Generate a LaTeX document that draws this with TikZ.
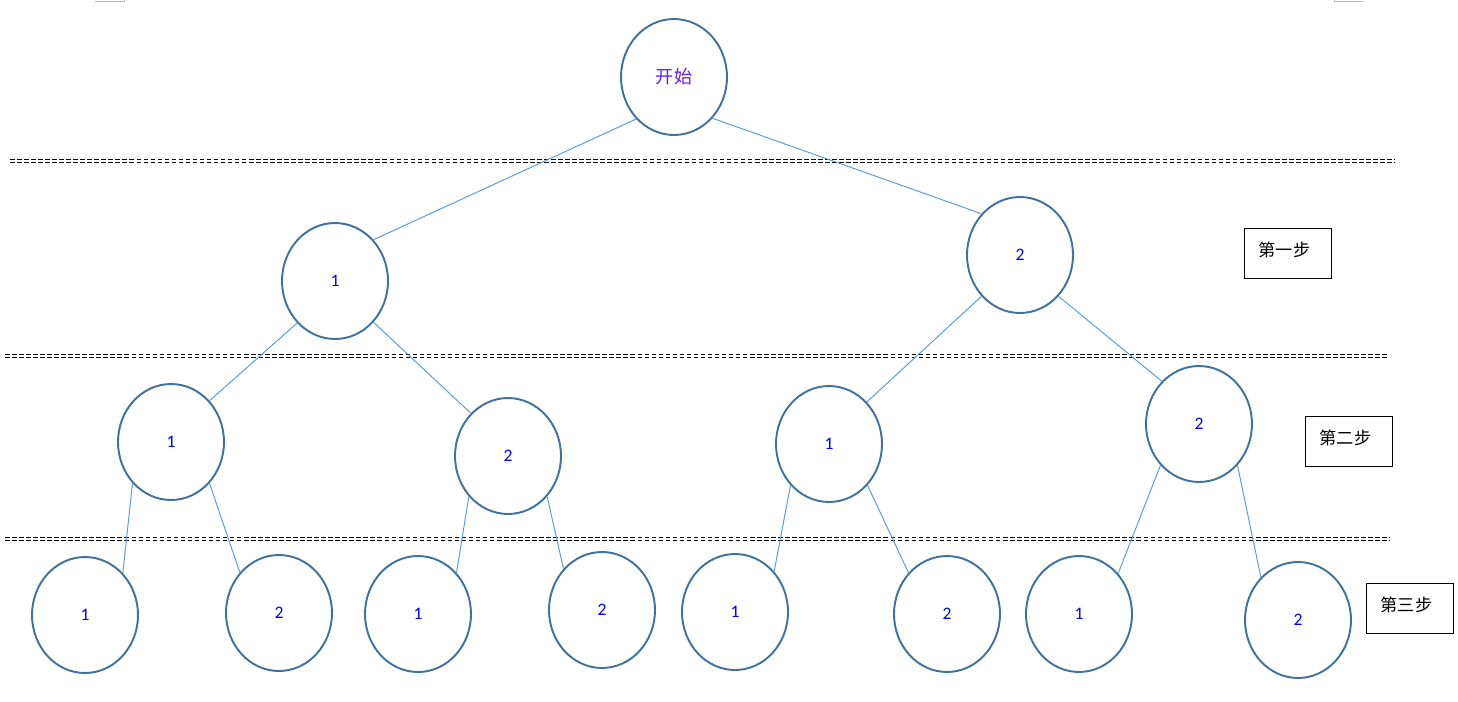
\documentclass[tikz,border=0pt]{standalone}
\usepackage{fontspec}
\setmainfont{Carlito}
\newfontfamily\cjk{Noto Sans CJK SC}
\usetikzlibrary{shapes.geometric}
\definecolor{rimblue}{RGB}{65,113,156}
\definecolor{linkblue}{RGB}{91,155,213}
\definecolor{startcol}{RGB}{100,30,240}

\begin{document}
\begin{tikzpicture}[
    x=0.02cm, y=-0.02cm,
    choice/.style={
        ellipse,
        draw=rimblue,
        line width=1.1pt,
        minimum width=2.12cm,
        minimum height=2.32cm,
        inner sep=0pt,
        text=blue,
        font=\fontsize{10}{11}\selectfont
    },
    link/.style={draw=linkblue, line width=0.55pt},
    sep/.style={
        draw=black,
        line width=0.8pt,
        dash pattern=on 2.6pt off 1.4pt
    },
    stepbox/.style={
        draw,
        line width=0.7pt,
        anchor=north west,
        inner xsep=0.28cm,
        inner ysep=0pt,
        text width=1.18cm,
        align=left,
        text height=0.56cm,
        text depth=0.44cm,
        font=\cjk\fontsize{9.8}{11}\selectfont
    },
    cornermark/.style={draw=gray!55, line width=0.5pt}
]
\useasboundingbox (0,0) rectangle (1458,701);

% page corner marks
\draw[cornermark] (95,1) -- (124,1) -- (124,0);
\draw[cornermark] (1334,0) -- (1334,1) -- (1363,1);

% separators between the steps (double dashed)
\foreach \y/\xa/\xb in {161/10/1395, 356/5/1388, 539/5/1390} {
    \draw[sep] (\xa,\y-1.6) -- (\xb,\y-1.6);
    \draw[sep] (\xa,\y+1.6) -- (\xb,\y+1.6);
}

% tree
\node[choice, text=startcol, font=\cjk\fontsize{10.3}{12}\selectfont] (start) at (674,77) {开始};

\node[choice] (n1) at (335,281) {1};
\node[choice] (n2) at (1020,255) {2};

\node[choice] (n11) at (171,442) {1};
\node[choice] (n12) at (508,456) {2};
\node[choice] (n21) at (829,444) {1};
\node[choice] (n22) at (1199,424) {2};

\node[choice] (n111) at (85,615) {1};
\node[choice] (n112) at (279,613) {2};
\node[choice] (n121) at (418,614) {1};
\node[choice] (n122) at (602,610) {2};
\node[choice] (n211) at (735,612) {1};
\node[choice] (n212) at (947,614) {2};
\node[choice] (n221) at (1079,614) {1};
\node[choice] (n222) at (1298,620) {2};

\draw[link] (start.228) -- (n1.47);
\draw[link] (start.313) -- (n2.133);

\draw[link] (n1.228) -- (n11.47);
\draw[link] (n1.313) -- (n12.131);
\draw[link] (n2.227) -- (n21.48);
\draw[link] (n2.313) -- (n22.131);

\draw[link] (n11.227) -- (n111.48);
\draw[link] (n11.313) -- (n112.134);
\draw[link] (n12.226) -- (n121.47);
\draw[link] (n12.314) -- (n122.133);
\draw[link] (n21.227) -- (n211.46);
\draw[link] (n21.313) -- (n212.133);
\draw[link] (n22.227) -- (n221.46);
\draw[link] (n22.313) -- (n222.131);

% step labels
\node[stepbox] (s1) at (1244,228) {第一步};
\node[stepbox] (s2) at (1305,416) {第二步};
\node[stepbox] (s3) at (1366,583) {第三步};

\end{tikzpicture}
\end{document}
